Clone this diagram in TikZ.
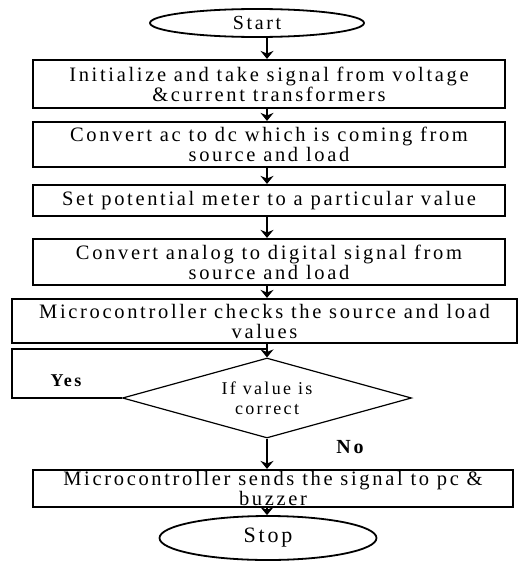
\documentclass[tikz,border=0pt]{standalone}
\usepackage{fontspec}
\setmainfont{Liberation Serif}[LetterSpace=13]
\usetikzlibrary{shapes.geometric,arrows.meta}
\begin{document}
\begin{tikzpicture}[x=1pt,y=-1pt,
  procbox/.style={draw,line width=2.2pt,inner sep=0pt,align=center,font=\fontsize{20.5}{20}\selectfont},
  term/.style={draw,ellipse,line width=1.8pt,inner sep=0pt},
  dec/.style={draw,diamond,aspect=3.6,line width=1.2pt,minimum width=289pt,minimum height=80pt,inner sep=0pt,align=center,font=\fontsize{18}{20}\selectfont},
  arr/.style={-{Stealth[length=8pt,width=13pt]},line width=2.6pt},
  loopline/.style={line width=2pt},
  lbl/.style={font=\fontsize{18}{19}\selectfont\bfseries}]
\useasboundingbox (0,0) rectangle (518,562);
\coordinate (ax) at (267,0);
\node[term,minimum width=214pt,minimum height=28pt,font=\fontsize{20}{20}\selectfont] (start) at (257,23) {Start};
\node[procbox,minimum width=472pt,minimum height=48pt] (b1) at (269,84) {Initialize and take signal from voltage\\\&current transformers};
\node[procbox,minimum width=472pt,minimum height=45pt] (b2) at (269,144.5) {Convert ac to dc which is coming from\\source and load};
\node[procbox,minimum width=472pt,minimum height=31pt] (b3) at (269,200.5) {Set potential meter to a particular value};
\node[procbox,minimum width=472pt,minimum height=46pt] (b4) at (269,262) {Convert analog to digital signal from\\source and load};
\node[procbox,minimum width=505pt,minimum height=44pt] (b5) at (264.5,321) {Microcontroller checks the source and load\\values};
\node[dec] (dia) at (267,398) {If value is\\correct};
\node[procbox,minimum width=480pt,minimum height=37pt] (b6) at (273,488.5) {Microcontroller sends the signal to pc \&\\buzzer};
\node[term,minimum width=217pt,minimum height=44pt,font=\fontsize{22}{22}\selectfont] (stop) at (268,538) {Stop};
\node[lbl] (yes) at (66,381) {Yes};
\node[lbl,font=\fontsize{20}{20}\selectfont\bfseries] (no) at (350,447) {No};
\draw[arr] (start.south -| ax) -- (b1.north -| ax);
\draw[arr] (b1.south -| ax) -- (b2.north -| ax);
\draw[arr] (b2.south -| ax) -- (b3.north -| ax);
\draw[arr] (b3.south -| ax) -- (b4.north -| ax);
\draw[arr] (b4.south -| ax) -- (b5.north -| ax);
\draw[arr] (b5.south -| ax) -- (dia.north);
\draw[arr] (dia.south) -- (b6.north -| ax);
\draw[arr] (b6.south -| ax) -- (stop.north -| ax);
\coordinate (lcorner) at (12,349);
\coordinate (ljoin) at (267,349);
\draw[loopline] (dia.west) -| (lcorner) -- (ljoin);
\end{tikzpicture}
\end{document}
